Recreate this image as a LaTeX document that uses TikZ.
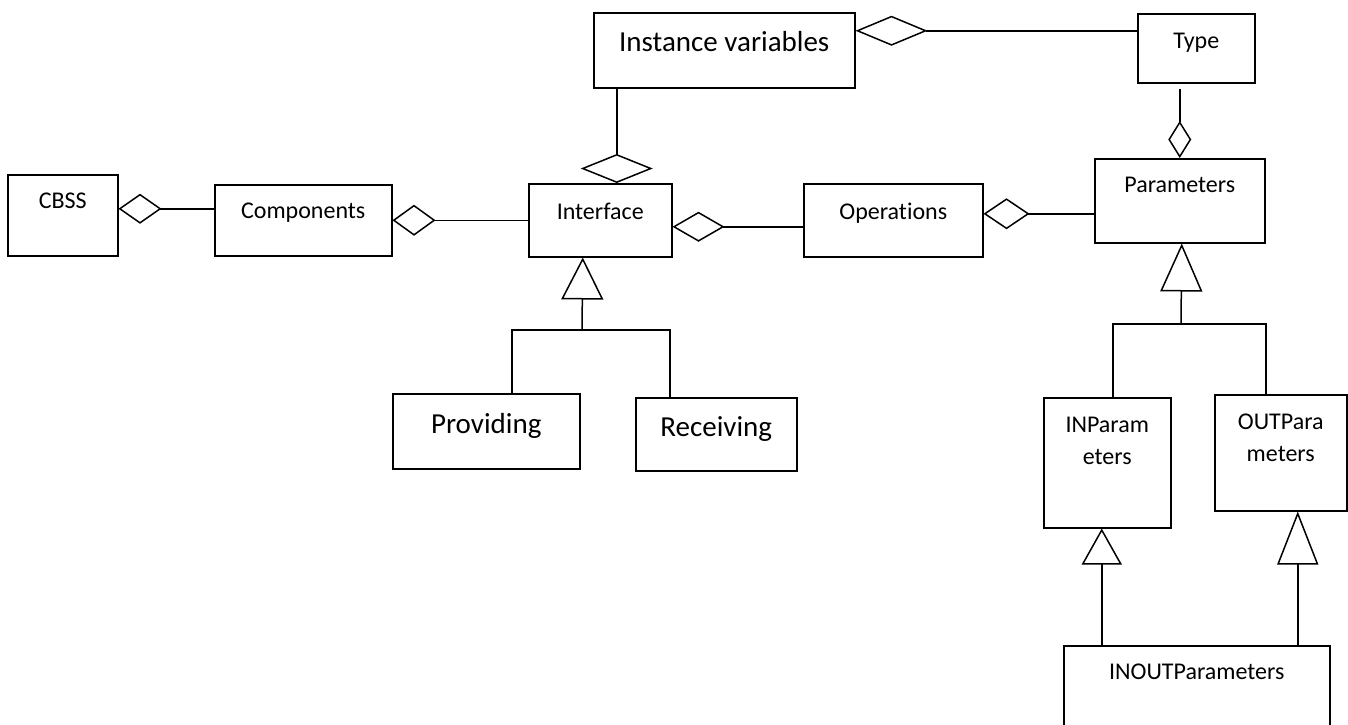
\documentclass[tikz,border=0pt]{standalone}
\usepackage{fontspec}
\setmainfont{Carlito}[Ligatures=NoCommon]
\usetikzlibrary{arrows.meta}

\tikzset{
	cls/.style={draw, line width=1.5pt, anchor=north west, inner ysep=0pt, align=center, font=\fontsize{24}{32}\selectfont},
	big/.style={font=\fontsize{29}{35}\selectfont},
	agg/.style 2 args={line width=1.5pt, -{Diamond[open, length=#1, width=#2]}},
	gen/.style 2 args={line width=1.5pt, -{Triangle[open, length=#1, width=#2]}},
}

\begin{document}
\begin{tikzpicture}[x=1pt, y=-1pt]
		\useasboundingbox (0,0) rectangle (1348,724);

		\node[cls, minimum width=110pt, minimum height=81pt, text height=34pt, text depth=47pt] (cbss) at (7,174) {CBSS};
		\node[cls, minimum width=177pt, minimum height=71pt, text height=34pt, text depth=37pt] (comp) at (214,184) {Components};
		\node[cls, minimum width=143pt, minimum height=73pt, text height=36pt, text depth=37pt] (iface) at (528,183) {Interface};
		\node[cls, big, minimum width=261pt, minimum height=75pt, text height=39pt, text depth=36pt] (ivar) at (593,12) {Instance variables};
		\node[cls, minimum width=117pt, minimum height=69pt, text height=35pt, text depth=34pt] (type) at (1137,13) {Type};
		\node[cls, minimum width=179pt, minimum height=73pt, text height=36pt, text depth=37pt] (ops) at (803,183) {Operations};
		\node[cls, minimum width=170pt, minimum height=84pt, text height=34pt, text depth=50pt] (params) at (1094,158) {Parameters};
		\node[cls, big, minimum width=187pt, minimum height=75pt, text height=40pt, text depth=35pt] (prov) at (392,393) {Providing};
		\node[cls, big, minimum width=161pt, minimum height=73pt, text height=39pt, text depth=34pt] (recv) at (635,397) {Receiving};
		\node[cls, minimum width=127pt, minimum height=130pt, text height=67pt, text depth=63pt] (inp) at (1043,397) {INParam\\eters};
		\node[cls, minimum width=132pt, minimum height=116pt, text height=67pt, text depth=49pt] (outp) at (1214,394) {OUTPara\\meters};
		\node[cls, minimum width=266pt, minimum height=90pt, text height=34pt, text depth=56pt] (inout) at (1063,645) {INOUTParameters};

		% aggregations
		\draw[agg={43pt}{30pt}] ([yshift=11.5pt]comp.west) -- ([yshift=6.5pt]cbss.east);
		\draw[agg={43pt}{31pt}] (iface.west) -- (comp.east);
		\draw[agg={52pt}{30pt}] ([yshift=-6.5pt]ops.west) -- ([yshift=-6.5pt]iface.east);
		\draw[agg={46pt}{31pt}] ([yshift=-13pt]params.west) -- ([yshift=6.5pt]ops.east);
		\draw[agg={72pt}{30pt}] ([yshift=17.5pt]type.west) -- ([yshift=19.5pt]ivar.east);
		\draw[agg={29pt}{72pt}] ([xshift=-107.5pt]ivar.south) -- ([xshift=16.5pt]iface.north);
		\draw[agg={37pt}{23pt}] ([xshift=-16.5pt, yshift=-5pt]type.south) -- (params.north);

		% generalizations
		\coordinate (ifork) at (582,330);
		\draw[gen={42pt}{42pt}] (ifork) -- ([xshift=-17.5pt]iface.south);
		\draw[line width=1.5pt] (ifork) -| ([xshift=25.5pt]prov.north);
		\draw[line width=1.5pt] (ifork) -| ([xshift=-46.5pt]recv.north);

		\coordinate (pfork) at (1181,324);
		\draw[gen={48pt}{42pt}] (pfork) -- ([xshift=2pt]params.south);
		\draw[line width=1.5pt] (pfork) -| ([xshift=5.5pt]inp.north);
		\draw[line width=1.5pt] (pfork) -| ([xshift=-15pt]outp.north);

		\draw[gen={36pt}{40pt}] ([xshift=-95pt]inout.north) -- ([xshift=-5.5pt]inp.south);
		\draw[gen={53pt}{41pt}] ([xshift=101pt]inout.north) -- ([xshift=17pt]outp.south);
	\end{tikzpicture}
\end{document}
